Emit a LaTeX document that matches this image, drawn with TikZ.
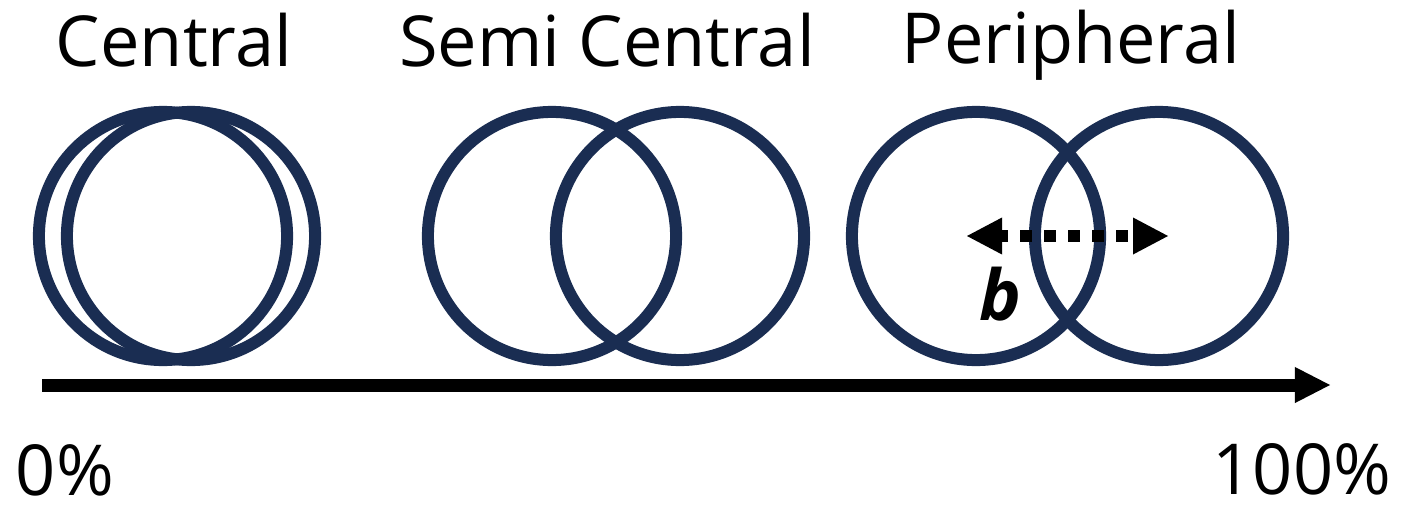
\documentclass[tikz,border=0pt]{standalone}
\usepackage{fontspec}
\setmainfont{Open Sans}
\usetikzlibrary{arrows.meta}
\definecolor{ringblue}{RGB}{26,45,82}

\begin{document}
\begin{tikzpicture}[
    x=0.01cm, y=-0.01cm,
    ring/.style={
        circle,
        draw=ringblue,
        line width=1.2mm,
        inner sep=0pt,
        minimum size=2.48cm
    },
    label_text/.style={
        anchor=base,
        inner sep=0pt,
        font=\fontsize{20}{24}\selectfont
    },
    axis_line/.style={
        draw,
        line width=1.3mm,
        -{Triangle[length=3.5mm, width=3.6mm, line width=0pt]}
    },
    gap_line/.style={
        draw,
        line width=1.2mm,
        dash pattern=on 1.2mm off 1.2mm,
        dash phase=0.6mm,
        {Triangle[length=3.5mm, width=3.7mm, line width=0pt]}-{Triangle[length=3.5mm, width=3.7mm, line width=0pt]}
    }
]
    \useasboundingbox (0,0) rectangle (1403,509);

    % --- Rings (three cases of overlap) ---
    \node [ring] (centralA) at (163,236) {};
    \node [ring] (centralB) at (191,236) {};

    \node [ring] (semiA) at (552,236) {};
    \node [ring] (semiB) at (680,236) {};

    \node [ring] (periA) at (976,236) {};
    \node [ring] (periB) at (1159,236) {};

    % --- Titles ---
    \node [label_text] (titleCentral) at (174,67) {Central};
    \node [label_text] (titleSemi) at (607,67) {Semi Central};
    \node [label_text] (titlePeri) at (1071,64) {Peripheral};

    % --- Axis ---
    \coordinate (axisStart) at (42,385);
    \coordinate (axisEnd) at (1330,385);
    \path [axis_line] (axisStart) -- (axisEnd);

    \node [label_text] (zeroPct) at (65,495) {0\%};
    \node [label_text] (fullPct) at (1302,494) {100\%};

    % --- Distance b ---
    \path [gap_line] ([xshift=-0.09cm]periA.center) -- ([xshift=0.09cm]periB.center);
    \node [label_text, font=\fontsize{20}{24}\selectfont\bfseries\itshape] (distB) at (1000,320) {b};

\end{tikzpicture}
\end{document}
